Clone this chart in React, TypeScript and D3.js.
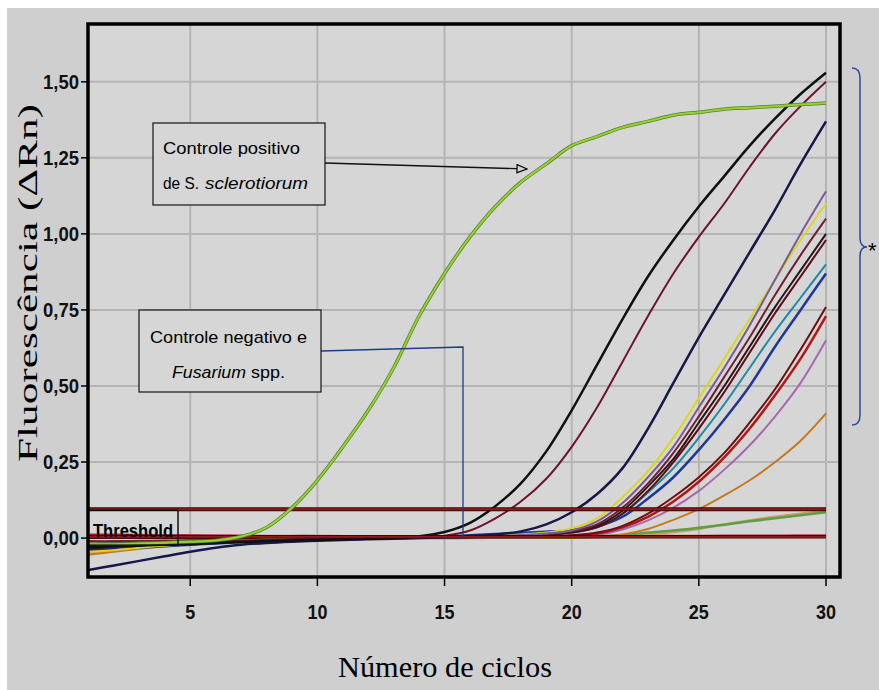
import React from 'react';
import * as d3 from 'd3';

// ciclos de PCR
const cycles = [1, 2, 3, 4, 5, 6, 7, 8, 9, 10, 11, 12, 13, 14, 15, 16, 17, 18, 19, 20, 21, 22, 23, 24, 25, 26, 27, 28, 29, 30];
const xTicks = [5, 10, 15, 20, 25, 30];
const yTicks = [0, 0.25, 0.5, 0.75, 1.0, 1.25, 1.5];
const yTickLabels = ['0,00', '0,25', '0,50', '0,75', '1,00', '1,25', '1,50'];
const threshold = 0.095;

// curvas de amplificação (ΔRn por ciclo)
const positivo = [-0.02, -0.02, -0.018, -0.015, -0.012, -0.008, 0.005, 0.035, 0.1, 0.19, 0.3, 0.42, 0.56, 0.73, 0.87, 0.99, 1.09, 1.17, 1.23, 1.29, 1.32, 1.35, 1.37, 1.39, 1.4, 1.41, 1.415, 1.42, 1.425, 1.43];
const preto1 = [-0.03, -0.028, -0.025, -0.022, -0.02, -0.016, -0.013, -0.01, -0.008, -0.006, -0.004, -0.002, 0, 0.006, 0.02, 0.05, 0.105, 0.18, 0.285, 0.42, 0.57, 0.72, 0.86, 0.98, 1.09, 1.19, 1.29, 1.38, 1.46, 1.53];
const vinho1 = [-0.02, -0.018, -0.016, -0.014, -0.012, -0.01, -0.008, -0.006, -0.004, -0.003, -0.002, -0.001, 0, 0.002, 0.008, 0.025, 0.065, 0.12, 0.195, 0.3, 0.43, 0.58, 0.73, 0.87, 0.99, 1.1, 1.22, 1.33, 1.42, 1.5];
const marinho = [-0.105, -0.09, -0.075, -0.06, -0.045, -0.032, -0.022, -0.016, -0.012, -0.009, -0.006, -0.004, -0.002, 0, 0.003, 0.007, 0.012, 0.022, 0.045, 0.085, 0.145, 0.23, 0.36, 0.51, 0.66, 0.8, 0.94, 1.08, 1.23, 1.37];
const roxo = [-0.03, -0.028, -0.025, -0.02, -0.016, -0.012, -0.009, -0.007, -0.005, -0.004, -0.003, -0.002, -0.001, 0, 0.002, 0.004, 0.007, 0.01, 0.015, 0.025, 0.055, 0.115, 0.2, 0.3, 0.43, 0.56, 0.7, 0.85, 1.0, 1.14];
const amarelo = [-0.045, -0.04, -0.032, -0.025, -0.018, -0.012, -0.008, -0.005, -0.003, -0.002, -0.001, 0, 0, 0.001, 0.003, 0.005, 0.008, 0.012, 0.018, 0.032, 0.065, 0.135, 0.22, 0.33, 0.46, 0.59, 0.72, 0.85, 0.98, 1.1];
const vinho2 = [-0.01, -0.01, -0.009, -0.008, -0.007, -0.006, -0.005, -0.004, -0.003, -0.002, -0.001, 0, 0, 0.001, 0.002, 0.004, 0.006, 0.009, 0.013, 0.022, 0.045, 0.1, 0.18, 0.28, 0.4, 0.53, 0.66, 0.8, 0.93, 1.05];
const escuro = [-0.035, -0.03, -0.026, -0.022, -0.018, -0.014, -0.01, -0.008, -0.006, -0.004, -0.003, -0.002, -0.001, 0, 0.001, 0.003, 0.005, 0.008, 0.012, 0.02, 0.04, 0.09, 0.17, 0.26, 0.38, 0.5, 0.63, 0.76, 0.88, 1.0];
const vermelhoEsc1 = [0, 0, 0, 0, 0, 0, 0, 0.001, 0.001, 0.002, 0.002, 0.002, 0.003, 0.003, 0.004, 0.005, 0.006, 0.008, 0.011, 0.018, 0.035, 0.08, 0.155, 0.25, 0.36, 0.48, 0.61, 0.74, 0.86, 0.98];
const ciano = [-0.02, -0.018, -0.016, -0.014, -0.012, -0.01, -0.008, -0.006, -0.005, -0.004, -0.003, -0.002, -0.001, 0, 0.001, 0.003, 0.005, 0.008, 0.012, 0.018, 0.035, 0.08, 0.15, 0.23, 0.33, 0.44, 0.56, 0.68, 0.79, 0.9];
const azul = [-0.04, -0.036, -0.032, -0.027, -0.022, -0.018, -0.014, -0.011, -0.008, -0.006, -0.004, -0.002, 0, 0.002, 0.005, 0.009, 0.013, 0.017, 0.021, 0.026, 0.038, 0.07, 0.13, 0.2, 0.29, 0.39, 0.5, 0.63, 0.75, 0.87];
const vermelhoEsc2 = [0.005, 0.005, 0.004, 0.004, 0.003, 0.003, 0.002, 0.002, 0.002, 0.002, 0.002, 0.002, 0.002, 0.002, 0.003, 0.003, 0.004, 0.005, 0.006, 0.009, 0.018, 0.04, 0.08, 0.135, 0.2, 0.28, 0.38, 0.49, 0.62, 0.76];
const vermelho = [0.01, 0.01, 0.009, 0.008, 0.008, 0.007, 0.006, 0.006, 0.005, 0.005, 0.005, 0.004, 0.004, 0.004, 0.004, 0.004, 0.004, 0.005, 0.006, 0.008, 0.014, 0.035, 0.07, 0.12, 0.185, 0.265, 0.36, 0.47, 0.59, 0.73];
const orquidea = [-0.015, -0.014, -0.012, -0.01, -0.008, -0.007, -0.006, -0.005, -0.004, -0.003, -0.002, -0.001, 0, 0, 0.001, 0.001, 0.002, 0.002, 0.003, 0.005, 0.01, 0.028, 0.058, 0.1, 0.155, 0.225, 0.305, 0.4, 0.51, 0.65];
const laranja = [-0.055, -0.045, -0.035, -0.025, -0.018, -0.012, -0.008, -0.005, -0.003, -0.002, -0.001, 0, 0, 0, 0, 0, 0, 0, 0, 0.001, 0.004, 0.012, 0.03, 0.06, 0.095, 0.14, 0.19, 0.25, 0.32, 0.41];
const verdePlano = [-0.018, -0.016, -0.014, -0.012, -0.01, -0.008, -0.006, -0.005, -0.004, -0.003, -0.002, -0.001, 0, 0, 0, 0.001, 0.001, 0.002, 0.002, 0.003, 0.005, 0.01, 0.018, 0.025, 0.034, 0.044, 0.055, 0.065, 0.075, 0.085];
const caqui = [-0.05, -0.042, -0.034, -0.027, -0.02, -0.014, -0.01, -0.007, -0.005, -0.003, -0.002, -0.001, 0, 0, 0, 0, 0.001, 0.001, 0.002, 0.002, 0.003, 0.006, 0.012, 0.02, 0.03, 0.045, 0.058, 0.07, 0.08, 0.09];
const rosa = [0.012, 0.012, 0.011, 0.01, 0.01, 0.009, 0.009, 0.008, 0.008, 0.008, 0.007, 0.007, 0.007, 0.007, 0.007, 0.007, 0.007, 0.007, 0.007, 0.007, 0.007, 0.007, 0.008, 0.008, 0.008, 0.009, 0.009, 0.009, 0.01, 0.01];
const negativo = [0.004, 0.004, 0.004, 0.004, 0.004, 0.004, 0.004, 0.004, 0.004, 0.004, 0.004, 0.004, 0.004, 0.004, 0.004, 0.004, 0.004, 0.004, 0.004, 0.004, 0.004, 0.004, 0.004, 0.004, 0.004, 0.004, 0.004, 0.004, 0.004, 0.004];

const series = [
  { values: rosa, color: '#c0607a', w: 2 },
  { values: caqui, color: '#c8a060', w: 2.5 },
  { values: verdePlano, color: '#5e9e48', w: 2.5 },
  { values: laranja, color: '#c47a1c', w: 2 },
  { values: orquidea, color: '#a868b0', w: 2 },
  { values: vermelho, color: '#b01818', w: 2.5 },
  { values: vermelhoEsc2, color: '#6e0e10', w: 2 },
  { values: azul, color: '#1c3898', w: 2.5 },
  { values: ciano, color: '#1a8aa8', w: 2 },
  { values: vermelhoEsc1, color: '#5a0c18', w: 2 },
  { values: escuro, color: '#2a1418', w: 2 },
  { values: vinho2, color: '#702030', w: 2 },
  { values: amarelo, color: '#d8d820', w: 2 },
  { values: roxo, color: '#7a5a98', w: 2 },
  { values: marinho, color: '#161848', w: 2.5 },
  { values: vinho1, color: '#6a1430', w: 2 },
  { values: preto1, color: '#101010', w: 2.5 },
];

const W = 879, H = 690;
const left = 88, right = 840, top = 24, bottom = 577;

export default function App() {
  const x = d3.scaleLinear().domain([0.98, 30.55]).range([left, right]);
  const y = d3.scaleLinear().domain([-0.128, 1.69]).range([bottom, top]);
  const line = d3.line<number>().x((_, i) => x(cycles[i])).y(d => y(d)).curve(d3.curveCatmullRom.alpha(0.5));

  const tickFont = "'Liberation Sans', Arial, sans-serif";
  const serif = "'Liberation Serif', 'Times New Roman', serif";
  const calib = "'Liberation Sans Narrow', 'Liberation Sans', Arial, sans-serif";
  const note = { fontFamily: calib, fontSize: 17, fill: '#000', lengthAdjust: 'spacingAndGlyphs' as const };

  return (
    <div style={{ position: 'absolute', left: 0, top: 0 }}>
      <svg width={W} height={H} style={{ display: 'block' }}>
        <defs>
          <marker id="seta" viewBox="0 0 12 10" refX="11" refY="5" markerWidth="12" markerHeight="10" markerUnits="userSpaceOnUse" orient="auto">
            <path d="M1,1 L11,5 L1,9 Z" fill="#d6d6d6" stroke="#111" strokeWidth="1.3" />
          </marker>
        </defs>
        <rect x={0} y={0} width={W} height={H} fill="#ffffff" />
        <rect x={7} y={8} width={W - 7} height={H - 8} fill="#cfcfcf" />
        <rect x={left} y={top} width={right - left} height={bottom - top} fill="#d6d6d6" />

        {/* grade */}
        {xTicks.map(t => (
          <line key={'gx' + t} x1={x(t)} x2={x(t)} y1={top} y2={bottom} stroke="#b4b4b4" strokeWidth={2} />
        ))}
        {yTicks.filter(t => t > 0).map(t => (
          <line key={'gy' + t} x1={left} x2={right} y1={y(t)} y2={y(t)} stroke="#b4b4b4" strokeWidth={2} />
        ))}

        {/* curvas */}
        {series.map((s, i) => (
          <path key={i} d={line(s.values) || ''} fill="none" stroke={s.color} strokeWidth={s.w} />
        ))}
        <path d={line(negativo) || ''} fill="none" stroke="#3a0808" strokeWidth={3.5} />
        <path d={line(negativo) || ''} fill="none" stroke="#8a1c1c" strokeWidth={1.8} />
        <line x1={left} x2={x(30)} y1={y(threshold)} y2={y(threshold)} stroke="#3a0808" strokeWidth={4} />
        <line x1={left} x2={x(30)} y1={y(threshold)} y2={y(threshold)} stroke="#8a1c1c" strokeWidth={2} />
        <path d={line(positivo) || ''} fill="none" stroke="#4e8a1e" strokeWidth={3.5} />
        <path d={line(positivo) || ''} fill="none" stroke="#9ccc3a" strokeWidth={2} />

        {/* caixa threshold */}
        <rect x={left} y={y(threshold) + 1} width={90} height={35} fill="none" stroke="#111" strokeWidth={1.5} />
        <text x={93} y={537} fontFamily={tickFont} fontWeight="bold" fontSize={18} textLength={80} lengthAdjust="spacingAndGlyphs" fill="#000">Threshold</text>

        {/* anotação positivo */}
        <line x1={325} y1={163} x2={527} y2={169} stroke="#111" strokeWidth={1.3} markerEnd="url(#seta)" />
        <rect x={153} y={123} width={172} height={82} fill="#d6d6d6" stroke="#222" strokeWidth={1.3} />
        <text x={163} y={154} textLength={137} {...note}>Controle positivo</text>
        <text x={163} y={189} textLength={36} {...note}>de S.</text>
        <text x={205} y={189} textLength={103} fontStyle="italic" {...note}>sclerotiorum</text>

        {/* anotação negativo */}
        <polyline points="321,351 463,347 463,537" fill="none" stroke="#1c3a8c" strokeWidth={1.3} />
        <rect x={139} y={310} width={182} height={82} fill="#d6d6d6" stroke="#222" strokeWidth={1.3} />
        <text x={150} y={343} textLength={157} {...note}>Controle negativo e</text>
        <text x={172} y={378} textLength={74} fontStyle="italic" {...note}>Fusarium</text>
        <text x={251} y={378} textLength={34} {...note}>spp.</text>

        {/* moldura */}
        <rect x={left} y={top} width={right - left} height={bottom - top} fill="none" stroke="#000" strokeWidth={3.5} />

        {/* eixo y */}
        {yTicks.map((t, i) => (
          <g key={'ty' + t}>
            <line x1={81} x2={left} y1={y(t)} y2={y(t)} stroke="#000" strokeWidth={1.5} />
            <text x={79} y={y(t) + 7} textAnchor="end" fontFamily={tickFont} fontWeight="bold" fontSize={20} textLength={36} lengthAdjust="spacingAndGlyphs" fill="#111">{yTickLabels[i]}</text>
          </g>
        ))}
        {/* eixo x */}
        {xTicks.map(t => (
          <g key={'tx' + t}>
            <line x1={x(t)} x2={x(t)} y1={bottom} y2={bottom + 9} stroke="#000" strokeWidth={1.5} />
            <text x={x(t)} y={619} textAnchor="middle" fontFamily={tickFont} fontWeight="bold" fontSize={21} textLength={String(t).length * 10} lengthAdjust="spacingAndGlyphs" fill="#111">{t}</text>
          </g>
        ))}

        <text transform="translate(37,283) rotate(-90)" textAnchor="middle" fontFamily={serif} fontSize={28} textLength={358} lengthAdjust="spacingAndGlyphs" fill="#000">Fluorescência (ΔRn)</text>
        <text x={445} y={677} textAnchor="middle" fontFamily={serif} fontSize={30} textLength={214} lengthAdjust="spacingAndGlyphs" fill="#000">Número de ciclos</text>

        {/* chave */}
        <path d="M852,68 Q860,68 860,78 L860,238 Q860,247 867,247 Q860,247 860,256 L860,415 Q860,425 852,425" fill="none" stroke="#2a4a9a" strokeWidth={1.5} />
        <text x={868} y={258} fontFamily={tickFont} fontSize={22} fill="#000">*</text>
      </svg>
    </div>
  );
}
